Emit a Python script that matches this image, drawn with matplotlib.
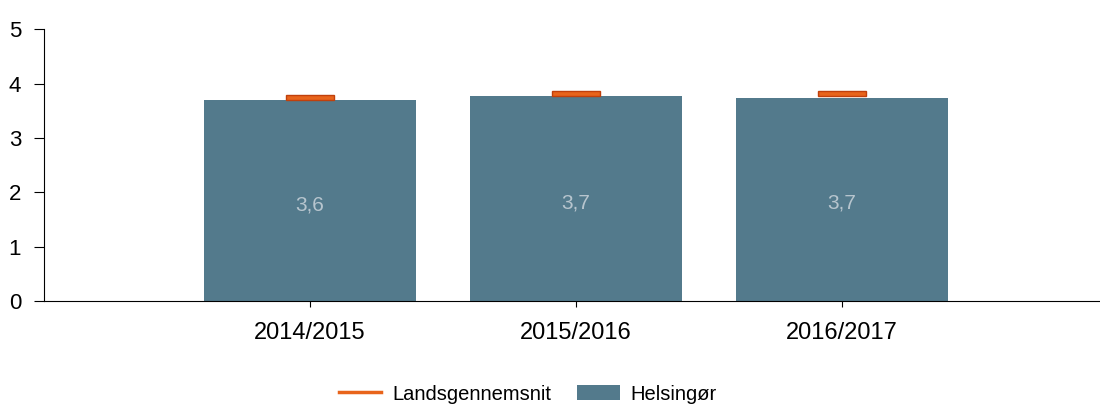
import matplotlib
matplotlib.use('Agg')
import matplotlib.pyplot as plt
from matplotlib.lines import Line2D
from matplotlib.patches import Patch

# data
years = ['2014/2015', '2015/2016', '2016/2017']
helsingor = [3.69, 3.77, 3.73]
labels = ['3,6', '3,7', '3,7']
landsgennemsnit = [3.75, 3.82, 3.81]

bar_color = '#537a8c'
avg_color = '#e8641b'
avg_edge = '#c0400c'

plt.rcParams['font.family'] = ['Liberation Sans', 'DejaVu Sans']

fig = plt.figure(figsize=(11, 4.05), dpi=100)
ax = fig.add_axes([0.04, 0.257, 0.96, 0.671])

x = list(range(len(years)))
ax.bar(x, helsingor, width=0.8, color=bar_color)
for xi, lab in zip(x, labels):
    # label sits at half of the shown (rounded) value
    ax.text(xi, float(lab.replace(',', '.')) / 2 - 0.04, lab, ha='center', va='center',
            color='#b7c5ce', fontsize=15)

# national average drawn as small flat boxes
ax.bar(x, [0.09] * len(x), bottom=[v - 0.045 for v in landsgennemsnit],
       width=0.18, color=avg_color, edgecolor=avg_edge, linewidth=1)

ax.set_xlim(-1, 2.97)
ax.set_ylim(0, 5)
ax.set_yticks([0, 1, 2, 3, 4, 5])
ax.set_xticks(x)
ax.set_xticklabels(years)
ax.spines['top'].set_visible(False)
ax.spines['right'].set_visible(False)
ax.tick_params(axis='y', length=7.5, labelsize=16, pad=9)
ax.tick_params(axis='x', length=4, labelsize=17, pad=11)

handles = [Line2D([0], [0], color=avg_color, lw=2.5),
           Patch(facecolor=bar_color)]
fig.legend(handles, ['Landsgennemsnit', 'Helsingør'], loc='center',
           bbox_to_anchor=(0.48, 0.027), ncol=2, frameon=False, fontsize=14.5,
           handlelength=2.1, handleheight=0.75, handletextpad=0.55,
           columnspacing=1.3)

plt.savefig('out.png')
